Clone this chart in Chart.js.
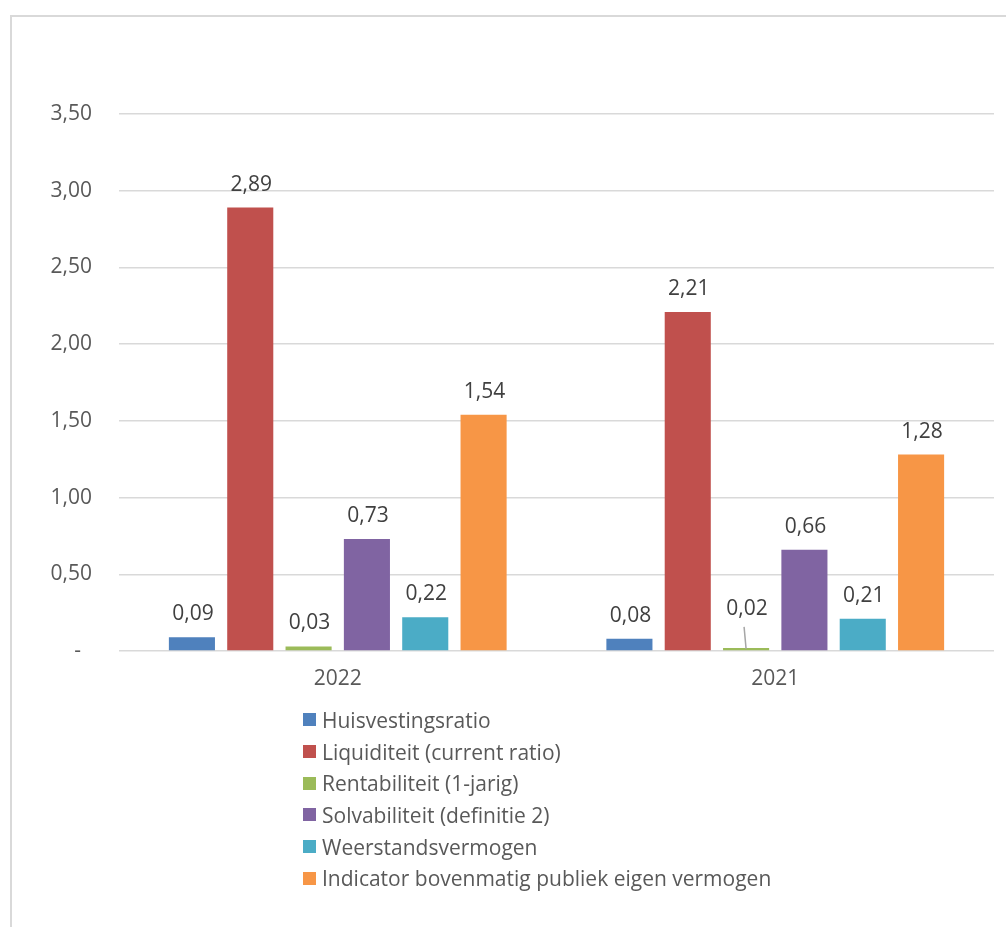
<!DOCTYPE html>
<html>
<head>
<meta charset="utf-8">
<script src="https://cdn.jsdelivr.net/npm/chart.js@4.4.1/dist/chart.umd.min.js"></script>
<style>
  body { margin: 0; background: #fff; font-family: "Open Sans", sans-serif; }
  .frame {
    position: absolute; left: 10px; top: 15px; width: 1100px; height: 1000px;
    border-left: 2px solid #d9d9d9; border-top: 2px solid #d9d9d9;
  }
  #wrap { position: absolute; left: 0; top: 0; width: 1006px; height: 710px; }
  #legend { position: absolute; left: 303px; top: 704px; }
  .leg-row { display: flex; align-items: center; height: 31.7px; font-size: 21px; color: #595959; }
  .leg-box { width: 13px; height: 13px; margin-right: 6px; }
</style>
</head>
<body>
<div class="frame"></div>
<div id="wrap"><canvas id="chart"></canvas></div>
<div id="legend"></div>

<script>
// categories (years) and series
const years = ['2022', '2021'];
const seriesNames = [
  'Huisvestingsratio',
  'Liquiditeit (current ratio)',
  'Rentabiliteit (1-jarig)',
  'Solvabiliteit (definitie 2)',
  'Weerstandsvermogen',
  'Indicator bovenmatig publiek eigen vermogen'
];
const huisvesting = [0.09, 0.08];
const liquiditeit = [2.89, 2.21];
const rentabiliteit = [0.03, 0.02];
const solvabiliteit = [0.73, 0.66];
const weerstand = [0.22, 0.21];
const indicator = [1.54, 1.28];
const colors = ['#4F81BD', '#C0504D', '#9BBB59', '#8064A2', '#4BACC6', '#F79646'];

const allValues = [huisvesting, liquiditeit, rentabiliteit, solvabiliteit, weerstand, indicator];

const fmt = v => v.toFixed(2).replace('.', ',');

// draws value labels above each bar (with leader line for lifted label)
const barLabels = {
  id: 'barLabels',
  afterDatasetsDraw(chart, args, opts) {
    const ctx = chart.ctx;
    ctx.save();
    ctx.font = '21px "Open Sans"';
    ctx.fillStyle = '#404040';
    ctx.textAlign = 'center';
    ctx.textBaseline = 'alphabetic';
    chart.data.datasets.forEach((ds, di) => {
      chart.getDatasetMeta(di).data.forEach((bar, i) => {
        let base = bar.y - 17;
        const lifted = opts.leader && opts.leader.dataset === di && opts.leader.index === i;
        if (lifted) {
          base -= opts.leader.lift;
          ctx.strokeStyle = '#a6a6a6';
          ctx.lineWidth = 1.5;
          ctx.beginPath();
          ctx.moveTo(bar.x - 2, base + 12);
          ctx.lineTo(bar.x, bar.y + 1);
          ctx.stroke();
        }
        ctx.fillText(fmt(ds.data[i]), bar.x + 1, base);
      });
    });
    ctx.restore();
  }
};

const ctx = document.getElementById('chart').getContext('2d');
const chart = new Chart(ctx, {
  type: 'bar',
  data: {
    labels: years,
    datasets: seriesNames.map((name, i) => ({
      label: name,
      data: allValues[i],
      backgroundColor: colors[i],
      categoryPercentage: 0.8,
      barPercentage: 0.79
    }))
  },
  options: {
    responsive: true,
    maintainAspectRatio: false,
    animation: false,
    layout: { padding: { left: 0, right: 12, top: 114, bottom: 9 } },
    plugins: {
      legend: { display: false },
      tooltip: { enabled: false },
      barLabels: { leader: { dataset: 2, index: 1, lift: 16 } }
    },
    scales: {
      x: {
        grid: { display: false, drawTicks: false },
        border: { display: false },
        ticks: { color: '#595959', font: { family: 'Open Sans', size: 21 }, padding: 15 },
        afterFit: s => { s.height = 50; }
      },
      y: {
        min: 0,
        max: 3.5,
        grid: { color: '#d9d9d9', lineWidth: 1.5, drawTicks: false },
        border: { display: false },
        ticks: {
          stepSize: 0.5,
          color: '#595959',
          font: { family: 'Open Sans', size: 21 },
          padding: 27,
          callback: v => v === 0 ? '-  ' : fmt(v)
        },
        afterFit: s => { s.width = 119; }
      }
    }
  },
  plugins: [barLabels]
});

// legend, one entry per line
const legend = document.getElementById('legend');
chart.data.datasets.forEach(ds => {
  const row = document.createElement('div');
  row.className = 'leg-row';
  row.innerHTML = `<span class="leg-box" style="background:${ds.backgroundColor}"></span><span>${ds.label}</span>`;
  legend.appendChild(row);
});
</script>
</body>
</html>
